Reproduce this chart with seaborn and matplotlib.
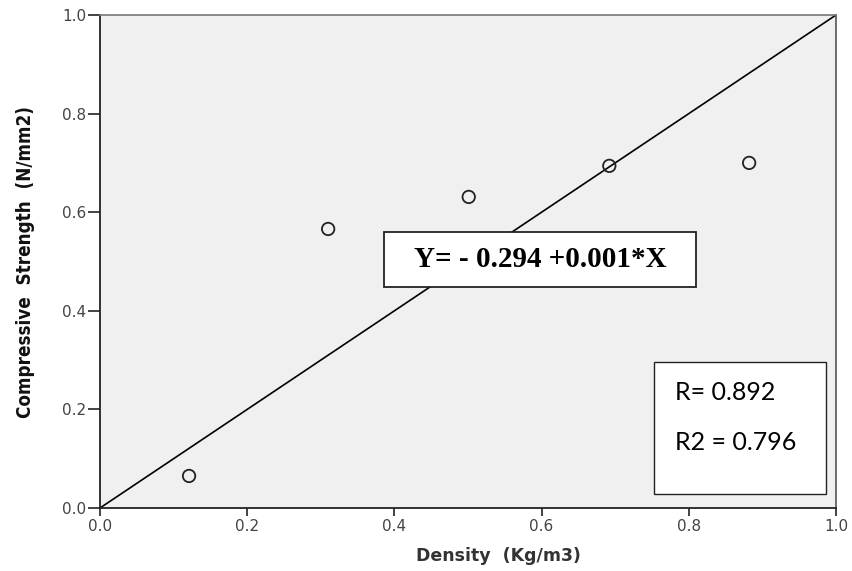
import matplotlib
matplotlib.use("Agg")
import matplotlib.pyplot as plt
from matplotlib.patches import Rectangle
import pandas as pd
import seaborn as sns

sns.set_theme(style="white")
plt.rcParams['font.family'] = ['DejaVu Sans']

# values
density = [0.121, 0.310, 0.501, 0.692, 0.882]
strength = [0.065, 0.566, 0.631, 0.694, 0.700]
ref_x = [0.0, 1.0]
ref_y = [0.0, 1.0]
ticks = [0.0, 0.2, 0.4, 0.6, 0.8, 1.0]
tick_labels = ["0.0", "0.2", "0.4", "0.6", "0.8", "1.0"]
equation = "Y= - 0.294 +0.001*X"
r_text = "R= 0.892"
r2_text = "R2 = 0.796"

df = pd.DataFrame({"Density": density, "Strength": strength})
line = pd.DataFrame({"x": ref_x, "y": ref_y})

fig = plt.figure(figsize=(8.52, 5.71), dpi=100)
ax = fig.add_axes([100/852, 1 - 508/571, 736/852, 493/571])
ax.set_facecolor("#f0f0f0")

sns.lineplot(x="x", y="y", data=line, color="black", linewidth=1.2, ax=ax)
sns.scatterplot(x="Density", y="Strength", data=df, ax=ax, s=80,
                facecolor="none", edgecolor="#222222", linewidth=1.3, zorder=3)

ax.set_xlim(0, 1)
ax.set_ylim(0, 1)
ax.set_xticks(ticks)
ax.set_xticklabels(tick_labels)
ax.set_yticks(ticks)
ax.set_yticklabels(tick_labels)
ax.tick_params(axis="x", direction="out", length=6, width=1.2, color="#222222",
               labelsize=11, labelcolor="#444444", pad=2, bottom=True)
ax.tick_params(axis="y", direction="out", length=9, width=1.2, color="#222222",
               labelsize=11, labelcolor="#444444", pad=1, left=True)

for side in ["left", "bottom"]:
    ax.spines[side].set_color("#222222")
    ax.spines[side].set_linewidth(1.3)
ax.spines["top"].set_color("#777777")
ax.spines["top"].set_linewidth(1.2)
ax.spines["right"].set_color("#555555")
ax.spines["right"].set_linewidth(1.2)

ax.set_xlabel("Density  (Kg/m3)", fontsize=12.5, fontweight="bold", color="#333333", labelpad=10)
ax.xaxis.set_label_coords(0.542, -0.080)
ax.set_ylabel("Compressive  Strength  (N/mm2)", fontsize=13.5, fontweight="bold",
              color="#111111", fontstretch="condensed",
              family=['DejaVu Sans'])
ax.yaxis.set_label_coords(-0.088, 0.50)

# equation box
ax.add_patch(Rectangle((0.386, 0.448), 0.424, 0.112, transform=ax.transAxes,
                       facecolor="white", edgecolor="#222222", linewidth=1.3, zorder=4))
ax.text(0.598, 0.504, equation, transform=ax.transAxes, fontsize=21, fontweight="bold",
        color="black", family=['Liberation Serif', 'DejaVu Serif'],
        va="center", ha="center", zorder=5)

# correlation box
ax.add_patch(Rectangle((0.753, 0.028), 0.233, 0.268, transform=ax.transAxes,
                       facecolor="white", edgecolor="#222222", linewidth=1.0, zorder=4))
ax.text(0.781, 0.235, r_text, transform=ax.transAxes, fontsize=18, color="black",
        family=['Lato', 'DejaVu Sans'], va="center", ha="left", zorder=5)
ax.text(0.781, 0.132, r2_text, transform=ax.transAxes, fontsize=18, color="black",
        family=['Lato', 'DejaVu Sans'], va="center", ha="left", zorder=5)

plt.savefig("out.png", dpi=100)
